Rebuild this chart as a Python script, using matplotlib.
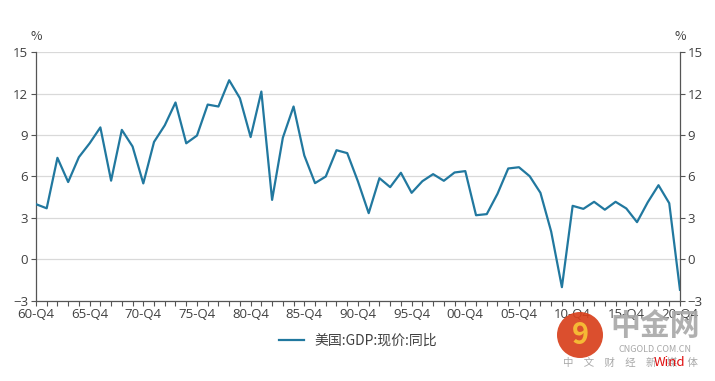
import matplotlib.pyplot as plt
from matplotlib.patches import Ellipse

plt.rcParams['font.family'] = ['Noto Sans CJK SC', 'DejaVu Sans']

# US nominal GDP, year-on-year, Q4 of each year (%)
years = list(range(1960, 2021))
gdp_yoy = [4.0, 3.7, 7.35, 5.6, 7.4, 8.4, 9.55, 5.7, 9.37, 8.17,
           5.5, 8.5, 9.7, 11.35, 8.4, 8.96, 11.2, 11.06, 12.96, 11.66,
           8.85, 12.14, 4.31, 8.8, 11.06, 7.52, 5.52, 6.0, 7.9, 7.69,
           5.64, 3.35, 5.88, 5.23, 6.27, 4.82, 5.66, 6.17, 5.69, 6.29,
           6.39, 3.2, 3.28, 4.75, 6.58, 6.67, 6.02, 4.82, 2.02, -2.0,
           3.88, 3.66, 4.17, 3.6, 4.17, 3.69, 2.7, 4.14, 5.37, 4.07,
           -2.19]
xtick_years = list(range(1960, 2021, 5))
xtick_labels = ['%02d-Q4' % (y % 100) for y in xtick_years]
yticks = [-3, 0, 3, 6, 9, 12, 15]

line_color = '#21789f'
text_color = '#404040'

fig = plt.figure(figsize=(7.15, 3.81), dpi=100)
ax = fig.add_axes([0.0503, 0.21, 0.9007, 0.6535])

ax.plot(years, gdp_yoy, color=line_color, lw=1.6, label='美国:GDP:现价:同比', zorder=3)

ax.set_xlim(1960, 2020)
ax.set_ylim(-3, 15)
ax.set_yticks(yticks)
ax.set_xticks(xtick_years)
ax.set_xticklabels(xtick_labels)
ax.set_xticks(years, minor=True)
ax.grid(axis='y', color='#d9d9d9', lw=0.9)
ax.set_axisbelow(True)

ax.spines['top'].set_visible(False)
for s in ['left', 'right', 'bottom']:
    ax.spines[s].set_color('#555555')
    ax.spines[s].set_linewidth(0.9)

ax.tick_params(axis='both', which='both', colors='#555555', labelcolor=text_color,
               labelsize=9.5, length=3.5, width=0.8)
ax.tick_params(axis='x', which='both', pad=1.5)
ax.tick_params(axis='y', right=True, labelright=True, pad=2)

for lbl in ax.get_xticklabels() + ax.get_yticklabels():
    lbl.set_family(['Open Sans', 'DejaVu Sans'])

fig.text(0.0503, 0.905, '%', ha='center', va='center', fontsize=9, color=text_color)
fig.text(0.951, 0.905, '%', ha='center', va='center', fontsize=9, color=text_color)

ax.legend(loc='upper center', bbox_to_anchor=(0.5, -0.08), frameon=False,
          fontsize=10, handlelength=1.8, labelcolor=text_color)

# watermark (drawn over the tick labels, as in the source image)
fig.patches.append(Ellipse((580 / 715, 1 - 335 / 381), 46 / 715, 46 / 381,
                           transform=fig.transFigure, facecolor='#d8401c',
                           edgecolor='none', alpha=0.92, zorder=10))
fig.text(580 / 715, 1 - 335 / 381, '9', ha='center', va='center', fontsize=21,
         fontweight='bold', color='#f5b935', zorder=11)
fig.text(655 / 715, 1 - 326 / 381, '中金网', ha='center', va='center', fontsize=21.5,
         fontweight='bold', color='#a8a8a8', alpha=0.9, zorder=11)
fig.text(655 / 715, 1 - 349 / 381, 'CNGOLD.COM.CN', ha='center', va='center', fontsize=6.5,
         color='#a8a8a8', zorder=11)
fig.text(630 / 715, 1 - 363 / 381, '中　文　财　经　新　媒　体', ha='center', va='center',
         fontsize=7.5, color='#a8a8a8', zorder=11)
fig.text(669 / 715, 1 - 363 / 381, 'Wind', ha='center', va='center', fontsize=9.5,
         color='#e01010', zorder=12)

fig.savefig('out.png', dpi=100)
